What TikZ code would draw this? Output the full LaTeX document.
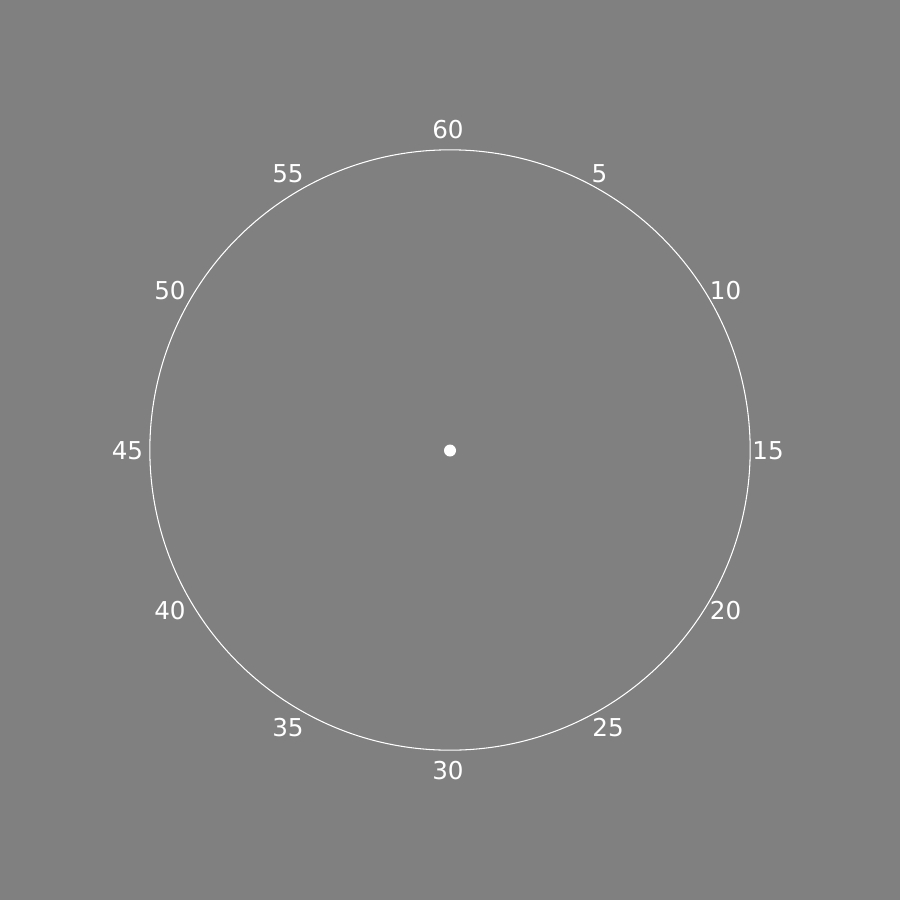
\documentclass[tikz,border=0pt]{standalone}
\usepackage{fontspec}
\setmainfont{DejaVu Sans}
\definecolor{bg}{HTML}{808080}
\begin{document}
\begin{tikzpicture}[x=0.01cm,y=-0.01cm,
  lbl/.style={text=white,font=\fontsize{7}{8}\selectfont,inner sep=0pt,anchor=center}]
\fill[bg] (0,0) rectangle (900,900);
\useasboundingbox (0,0) rectangle (900,900);
\node[circle,draw=white,line width=0.3pt,minimum size=6cm,inner sep=0pt] (dial) at (450,450) {};
\node[circle,fill=white,minimum size=0.12cm,inner sep=0pt] (hub) at (450,450.5) {};
\node[lbl] (l60) at (448,130) {60};
\node[lbl] (l5) at (599.5,173.5) {5};
\node[lbl] (l10) at (725.5,290.5) {10};
\node[lbl] (l15) at (768,450.5) {15};
\node[lbl] (l20) at (725.5,610.5) {20};
\node[lbl] (l25) at (608,727.5) {25};
\node[lbl] (l30) at (448,770.5) {30};
\node[lbl] (l35) at (288,727.5) {35};
\node[lbl] (l40) at (170,610.5) {40};
\node[lbl] (l45) at (127.5,450.5) {45};
\node[lbl] (l50) at (170,290.5) {50};
\node[lbl] (l55) at (288,173.5) {55};
\end{tikzpicture}
\end{document}
